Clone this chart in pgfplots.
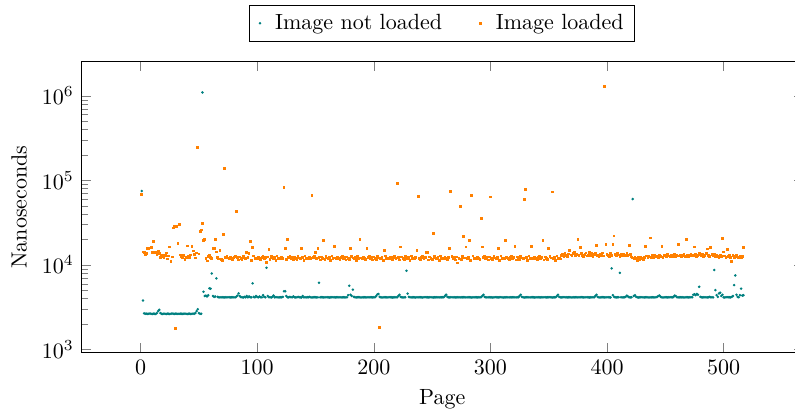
\documentclass[border=0pt]{standalone}
\usepackage{pgfplots}
\usepackage{pgfplotstable}
\pgfplotsset{compat=1.18}

% one value per page, pages 1..517
\pgfplotstableread[row sep=\\]{
y\\
75000\\3800\\2680\\2650\\2660\\2640\\2650\\2670\\2650\\2640\\
2660\\2650\\2640\\2700\\2850\\2950\\2700\\2650\\2640\\2660\\
2650\\2640\\2660\\2650\\2640\\2650\\2670\\2650\\2640\\2660\\
2650\\2640\\2650\\2660\\2650\\2640\\2650\\2660\\2650\\2640\\
2650\\2660\\2640\\2650\\2660\\2650\\2700\\2850\\3000\\2700\\
2650\\2650\\1100000\\4830\\4300\\4350\\4250\\4400\\5300\\5250\\
7950\\4300\\4200\\4250\\6950\\4200\\4150\\4140\\4150\\4160\\
4150\\4140\\4150\\4150\\4160\\4150\\4140\\4150\\4160\\4150\\
4140\\4200\\4350\\4620\\4300\\4180\\4150\\4140\\4200\\4150\\
4300\\4150\\4250\\4160\\4150\\6070\\4200\\4150\\4300\\4180\\
4150\\4250\\4160\\4150\\4400\\4200\\4150\\9270\\4300\\4160\\
4150\\4140\\4200\\4350\\4150\\4160\\4150\\4140\\4150\\4160\\
4150\\4200\\4890\\4890\\4300\\4150\\4140\\4200\\4150\\4160\\
4250\\4150\\4140\\4150\\4200\\4160\\4150\\4140\\4300\\4150\\
4150\\4140\\4160\\4150\\4200\\4150\\4140\\4150\\4160\\4150\\
4140\\4150\\6170\\4150\\4160\\4150\\4140\\4150\\4150\\4160\\
4150\\4140\\4150\\4160\\4150\\4150\\4140\\4150\\4160\\4150\\
4150\\4140\\4150\\4160\\4150\\4140\\4150\\4400\\5690\\4450\\
4300\\5110\\4200\\4150\\4140\\4150\\4160\\4150\\4140\\4150\\
4150\\4160\\4150\\4140\\4150\\4150\\4160\\4150\\4140\\4150\\
4150\\4300\\4500\\4550\\4200\\4150\\4140\\4150\\4160\\4150\\
4150\\4140\\4150\\4160\\4150\\4140\\4150\\4150\\4160\\4150\\
4300\\4450\\4200\\4150\\4140\\4150\\4160\\8550\\4600\\4200\\
4150\\4140\\4150\\4160\\4150\\4140\\4150\\4150\\4160\\4150\\
4150\\4140\\4150\\4160\\4150\\4150\\4140\\4150\\4160\\4150\\
4140\\4150\\4150\\4160\\4150\\4140\\4150\\4150\\4160\\4150\\
4300\\4450\\4200\\4150\\4140\\4150\\4160\\4150\\4150\\4140\\
4150\\4160\\4150\\4140\\4150\\4150\\4160\\4150\\4140\\4150\\
4150\\4160\\4150\\4140\\4150\\4150\\4160\\4150\\4140\\4150\\
4150\\4160\\4300\\4450\\4200\\4150\\4140\\4150\\4160\\4150\\
4150\\4140\\4150\\4160\\4150\\4150\\4140\\4150\\4160\\4150\\
4140\\4150\\4150\\4160\\4150\\4140\\4150\\4150\\4160\\4150\\
4150\\4140\\4150\\4160\\4300\\4450\\4200\\4150\\4140\\4150\\
4160\\4150\\4150\\4140\\4150\\4160\\4150\\4140\\4150\\4150\\
4160\\4150\\4140\\4150\\4150\\4160\\4150\\4140\\4150\\4150\\
4160\\4150\\4140\\4150\\4150\\4160\\4300\\4450\\4200\\4150\\
4140\\4150\\4160\\4150\\4150\\4140\\4150\\4160\\4150\\4140\\
4150\\4150\\4160\\4150\\4140\\4150\\4150\\4160\\4150\\4140\\
4150\\4150\\4160\\4150\\4140\\4150\\4150\\4160\\4150\\4300\\
4450\\4200\\4150\\4140\\4150\\4160\\4150\\4140\\4150\\4150\\
4160\\4150\\4140\\9120\\4400\\4200\\4150\\4140\\4150\\4160\\
8090\\4150\\4140\\4150\\4160\\4200\\4350\\4250\\4150\\4140\\
4150\\60300\\4300\\4400\\4200\\4150\\4140\\4150\\4160\\4150\\
4150\\4140\\4150\\4160\\4150\\4140\\4150\\4150\\4160\\4150\\
4140\\4150\\4200\\4300\\4350\\4200\\4150\\4140\\4150\\4160\\
4150\\4140\\4150\\4150\\4160\\4150\\4200\\4350\\4300\\4150\\
4140\\4150\\4160\\4150\\4150\\4140\\4150\\4160\\4150\\4140\\
4150\\4150\\4160\\4450\\4500\\4400\\4550\\4450\\5530\\4200\\
4150\\4140\\4150\\4160\\4150\\4140\\4150\\4200\\4150\\4150\\
4140\\8720\\5050\\4400\\4200\\4600\\4700\\4300\\4450\\4150\\
4140\\4150\\4160\\4150\\4150\\4140\\4200\\4300\\5800\\7540\\
4450\\4200\\4150\\4400\\5250\\4350\\4400\\
}\notloaded

\pgfplotstableread[row sep=\\]{
y\\
68600\\14300\\14000\\13300\\13600\\15600\\15700\\15900\\16000\\14200\\
19100\\13900\\14100\\13300\\14500\\13600\\12200\\12600\\13000\\12400\\
13100\\13900\\11800\\12800\\16400\\11000\\12500\\27500\\28800\\1770\\
28800\\18000\\30300\\13200\\12600\\12300\\13000\\11700\\12400\\16800\\
12800\\12300\\13200\\16700\\14700\\13300\\12100\\13900\\244000\\13500\\
24900\\26000\\31200\\19700\\20200\\12000\\11200\\12700\\13200\\12400\\
12000\\15700\\15700\\20000\\14300\\12300\\11800\\15000\\11600\\11400\\
22900\\140000\\12200\\12600\\12100\\11800\\12400\\12000\\11600\\12300\\
12700\\42900\\12200\\11500\\12500\\12000\\11700\\12600\\12100\\11900\\
14000\\12300\\13600\\19100\\11400\\16200\\12800\\12000\\12100\\11800\\
12400\\12000\\11600\\12300\\12700\\11900\\12200\\10700\\12500\\15300\\
11700\\12600\\12100\\11900\\12300\\11400\\12800\\12000\\12100\\11800\\
12400\\12000\\83600\\15800\\11600\\20200\\12300\\12700\\11900\\12200\\
11500\\12500\\12000\\11700\\12600\\12100\\11900\\15600\\12300\\11400\\
12800\\12000\\12100\\11800\\12400\\12000\\66700\\12300\\12700\\14000\\
11900\\15700\\12200\\11500\\12500\\12000\\19700\\11700\\12600\\12100\\
11900\\12300\\11400\\12800\\12000\\16700\\12100\\11800\\12400\\12000\\
11600\\12300\\12700\\11900\\12200\\11500\\12500\\12000\\11700\\15800\\
12600\\12100\\11900\\12300\\11400\\12800\\12000\\20000\\12100\\11800\\
12400\\12000\\11600\\15700\\12300\\12700\\11900\\12200\\11500\\12500\\
12000\\11700\\12600\\12100\\1820\\11900\\12300\\11400\\15000\\12800\\
12000\\12100\\11800\\12400\\12000\\11600\\12300\\12700\\11900\\91600\\
12200\\11500\\16400\\12500\\12000\\11700\\12600\\12100\\11900\\12300\\
11400\\12800\\12000\\12100\\11800\\12400\\15000\\64500\\12000\\11600\\
12300\\12700\\11900\\12200\\14000\\14000\\11500\\12500\\12000\\11700\\
23600\\12600\\12100\\11900\\12300\\11400\\12800\\12000\\12100\\11800\\
12400\\12000\\11600\\12300\\15800\\74300\\12700\\11900\\12200\\11500\\
12500\\10600\\12000\\49400\\11700\\12600\\21900\\12100\\16400\\11900\\
12300\\19700\\11400\\66700\\12800\\12000\\12100\\11800\\12400\\12000\\
11600\\35500\\16400\\12300\\12700\\11900\\12200\\11500\\12500\\63800\\
12000\\11700\\12600\\12100\\11900\\12300\\15700\\11400\\12800\\12000\\
12100\\11800\\19700\\12400\\12000\\11600\\12300\\12700\\11900\\12200\\
16500\\11500\\12500\\12000\\11700\\12600\\12100\\11900\\59900\\78500\\
12300\\11400\\12800\\12000\\16500\\12100\\11800\\12400\\12000\\11600\\
12300\\12700\\11900\\12200\\19700\\11500\\12500\\12000\\11700\\15600\\
12600\\12100\\73000\\11900\\12300\\11400\\12800\\12000\\12100\\11800\\
12900\\13400\\12600\\13800\\13100\\12700\\13500\\15000\\13200\\12800\\
13600\\14200\\13000\\13300\\20200\\12900\\16300\\13700\\13100\\12600\\
13400\\13900\\12800\\13200\\14100\\13000\\13600\\12700\\13300\\13800\\
17200\\13100\\12600\\13500\\13000\\13900\\12800\\1290000\\17600\\13400\\
13100\\12700\\13600\\13000\\17400\\22100\\13300\\12900\\13800\\13200\\
12600\\13500\\13000\\13400\\12800\\13100\\13700\\12900\\17000\\13300\\
12500\\12100\\11800\\12300\\11900\\11200\\12200\\11700\\12400\\12000\\
11600\\12300\\16700\\12800\\12100\\12600\\20900\\12200\\12900\\12400\\
13100\\12500\\12800\\12200\\13000\\12700\\16700\\12400\\13200\\12900\\
12600\\13300\\12800\\12500\\13100\\12700\\12900\\13400\\12600\\13000\\
17400\\12800\\13200\\12500\\12900\\13300\\12700\\20200\\13000\\12600\\
12900\\13400\\12800\\13100\\16400\\13300\\12700\\13000\\13600\\13200\\
12900\\13500\\12700\\13100\\13800\\15500\\13000\\12600\\16200\\13300\\
12800\\13400\\12500\\13100\\12700\\12300\\13000\\12600\\20600\\14300\\
12800\\12200\\15300\\12600\\13000\\12400\\11000\\12900\\12300\\12700\\
13100\\12500\\12200\\12800\\12400\\12600\\16200\\
}\loaded

\begin{document}
\begin{tikzpicture}
\begin{axis}[
    name=ax,
    scale only axis,
    width=327.9pt, height=132.3pt,
    ymode=log,
    xmin=-50.6, xmax=568,
    ymin=920, ymax=2.55e6,
    xtick={0,100,200,300,400,500},
    ytick={1000,10000,100000,1000000},
    xlabel={Page},
    ylabel={Nanoseconds},
    legend columns=-1,
    legend style={at={(0.5,1.068)}, anchor=south, draw=black,
        /tikz/every even column/.append style={column sep=14pt}},
    legend image code/.code={\draw[#1] plot coordinates {(0.05cm,0cm)};
        \path (0cm,0cm) (0.215cm,0cm);},
]
\addplot[only marks, mark=*, color=teal, mark size=0.35pt]
    table[x expr=\coordindex+1, y=y] {\notloaded};
\addplot[only marks, mark=square*, color=orange, mark size=0.4pt]
    table[x expr=\coordindex+1, y=y] {\loaded};
\legend{Image not loaded, Image loaded\hspace{4.5pt}}
\end{axis}
\pgfresetboundingbox
\useasboundingbox ([xshift=-37.1pt,yshift=-27pt]ax.south west)
    rectangle ([xshift=324.3pt,yshift=28pt]ax.north west);
\end{tikzpicture}
\end{document}
